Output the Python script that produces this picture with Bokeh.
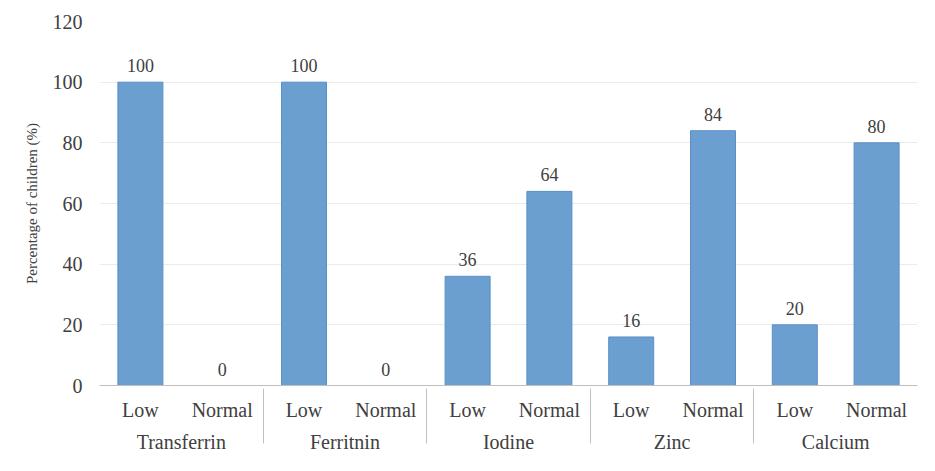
from bokeh.plotting import figure
from bokeh.models import FactorRange, ColumnDataSource, LabelSet, FixedTicker
from bokeh.embed import file_html
from bokeh.resources import INLINE

groups = ["Transferrin", "Ferritnin", "Iodine", "Zinc", "Calcium"]
levels = ["Low", "Normal"]
low_values = [100, 100, 36, 16, 20]
normal_values = [0, 0, 64, 84, 80]
y_ticks = [0, 20, 40, 60, 80, 100, 120]

factors = []
values = []
for g, lo, no in zip(groups, low_values, normal_values):
    factors.append((g, levels[0]))
    values.append(lo)
    factors.append((g, levels[1]))
    values.append(no)

src = ColumnDataSource(dict(x=factors, top=values, label=[str(v) for v in values]))

FONT = "Liberation Serif"
TXT = "#404040"

p = figure(width=919, height=455, output_backend="svg", toolbar_location=None,
           x_range=FactorRange(*factors, factor_padding=0, group_padding=0, range_padding=0),
           y_range=(0, 120),
           min_border_left=99, min_border_right=2, min_border_top=21, min_border_bottom=68)

p.vbar(x="x", top="top", width=0.55, source=src, fill_color="#6a9fd0", line_color="#5a8fc8", line_width=1)

labels = LabelSet(x="x", y="top", text="label", source=src, text_align="center",
                  text_baseline="bottom", y_offset=10, text_font=FONT, text_font_size="18px",
                  text_color=TXT)
p.add_layout(labels)

p.outline_line_color = None
p.xgrid.grid_line_color = None
p.ygrid.grid_line_color = "#ebebeb"
p.ygrid.ticker = FixedTicker(ticks=y_ticks)

p.yaxis.ticker = FixedTicker(ticks=y_ticks)
p.yaxis.axis_line_color = None
p.yaxis.major_tick_line_color = None
p.yaxis.minor_tick_line_color = None
p.yaxis.major_label_standoff = 11
p.yaxis.major_label_text_font = FONT
p.yaxis.major_label_text_font_size = "20px"
p.yaxis.major_label_text_color = TXT
p.yaxis.axis_label = "Percentage of children (%)"
p.yaxis.axis_label_text_font = FONT
p.yaxis.axis_label_text_font_style = "normal"
p.yaxis.axis_label_text_font_size = "15px"
p.yaxis.axis_label_text_color = TXT
p.yaxis.axis_label_standoff = 10

xa = p.xaxis[0]
xa.axis_line_color = "#bfbfbf"
xa.major_tick_line_color = None
xa.minor_tick_line_color = None
xa.major_label_text_font = FONT
xa.major_label_text_font_size = "20px"
xa.major_label_text_color = TXT
xa.major_label_standoff = 7
xa.group_text_font = FONT
xa.group_text_font_size = "20px"
xa.group_text_color = TXT
xa.group_text_font_style = "normal"
xa.separator_line_color = "#bfbfbf"
xa.separator_line_width = 1

open("out.html", "w").write(file_html(p, INLINE))
